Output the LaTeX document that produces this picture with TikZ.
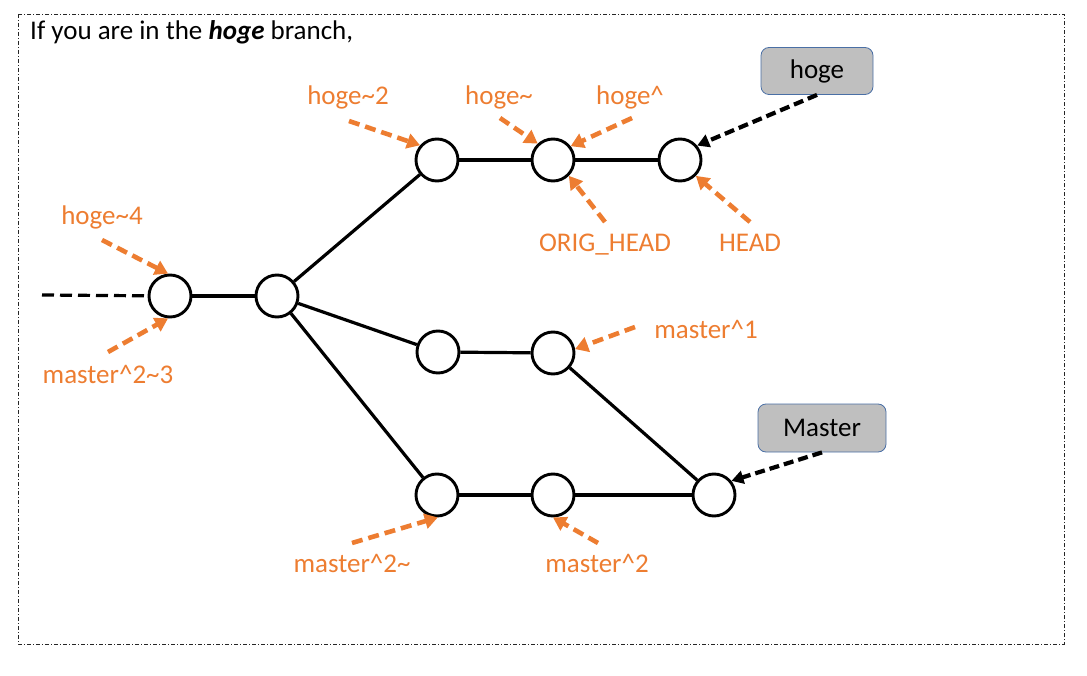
\documentclass[tikz,border=0pt]{standalone}
\usepackage{fontspec}
\setmainfont{Carlito}
\usetikzlibrary{arrows.meta}
\definecolor{orng}{HTML}{ED7D31}
\definecolor{boxgray}{HTML}{BFBFBF}
\definecolor{boxline}{HTML}{4A6FA5}
\begin{document}
\begin{tikzpicture}[x=1pt,y=-1pt,
  commit/.style={circle,draw=black,line width=2.9pt,minimum size=42pt,inner sep=0pt,fill=white},
  edge/.style={line width=3.2pt,black},
  lbl/.style={text=orng,font=\fontsize{27}{32}\selectfont,inner sep=0pt,anchor=base},
  refarrow/.style={draw=orng,line width=4.6pt,dash pattern=on 11pt off 6pt,-{Triangle[width=15pt,length=13pt]}},
  brarrow/.style={draw=black,line width=4.2pt,dash pattern=on 10pt off 5pt,-{Triangle[width=13pt,length=12pt]}},
  branch/.style={draw=boxline,line width=0.8pt,fill=boxgray,rounded corners=8pt,inner sep=0pt,font=\fontsize{27}{32}\selectfont}
]
\useasboundingbox (0,0) rectangle (1087,676);
\draw[line width=0.9pt,black!85,dash pattern=on 4pt off 2pt on 1pt off 2pt] (18,14) rectangle (1064,644);
\node[anchor=base west,inner sep=0pt,font=\fontsize{27}{32}\selectfont] (title) at (30,40) {If you are in the \textbf{\textit{hoge}} branch,};

% commits
\node[commit] (A) at (170,296) {};
\node[commit] (B) at (277,296) {};
\node[commit] (C) at (437,160) {};
\node[commit] (D) at (553,160) {};
\node[commit] (E) at (680,160) {};
\node[commit] (F) at (438,352) {};
\node[commit] (G) at (553,353) {};
\node[commit] (H) at (437,495) {};
\node[commit] (I) at (553,495) {};
\node[commit] (J) at (714,495) {};

\coordinate (start) at (42,295);
\draw[edge,dash pattern=on 12pt off 6pt] (start) -- (A);
\draw[edge] (A) -- (B);
\draw[edge] (B) -- (C);
\draw[edge] (B) -- (F);
\draw[edge] (B) -- (H);
\draw[edge] (C) -- (D);
\draw[edge] (D) -- (E);
\draw[edge] (F) -- (G);
\draw[edge] (G) -- (J);
\draw[edge] (H) -- (I);
\draw[edge] (I) -- (J);

% branch boxes
\node[branch,minimum width=112pt,minimum height=47pt] (hoge) at (817,71) {hoge};
\node[branch,minimum width=128pt,minimum height=48pt] (master) at (822,428) {Master};
\draw[brarrow] (hoge.south) -- (E.40);
\draw[brarrow] (master.south) -- (J.39);

% labels
\node[lbl] (l1) at (348,105) {hoge\textasciitilde2};
\node[lbl] (l2) at (499,105) {hoge\textasciitilde};
\node[lbl] (l3) at (630,105) {hoge\textasciicircum};
\node[lbl] (l4) at (605,252) {ORIG\_HEAD};
\node[lbl] (l5) at (750,252) {HEAD};
\node[lbl] (l6) at (102,225) {hoge\textasciitilde4};
\node[lbl] (l7) at (108,383) {master\textasciicircum2\textasciitilde3};
\node[lbl] (l8) at (706,338) {master\textasciicircum1};
\node[lbl] (l9) at (352,572) {master\textasciicircum2\textasciitilde};
\node[lbl] (l10) at (597,572) {master\textasciicircum2};

% arrow starts
\coordinate (s1) at (349,121);
\coordinate (s2) at (500,118);
\coordinate (s3) at (632,118);
\coordinate (s4) at (605,222);
\coordinate (s5) at (750,222);
\coordinate (s6) at (102,240);
\coordinate (s7) at (108,352);
\coordinate (s8) at (635,327);
\coordinate (s9) at (352,543);
\coordinate (s10) at (598,543);

\draw[refarrow] (s1) -- (C.139);
\draw[refarrow] (s2) -- (D.133);
\draw[refarrow] (s3) -- (D.38);
\draw[refarrow] (s4) -- (D.-45);
\draw[refarrow] (s5) -- (E.-45);
\draw[refarrow] (s6) -- (A.95);
\draw[refarrow] (s7) -- (A.265);
\draw[refarrow] (s8) -- (G.10);
\draw[refarrow] (s9) -- (H.-88);
\draw[refarrow] (s10) -- (I.-90);
\end{tikzpicture}
\end{document}
